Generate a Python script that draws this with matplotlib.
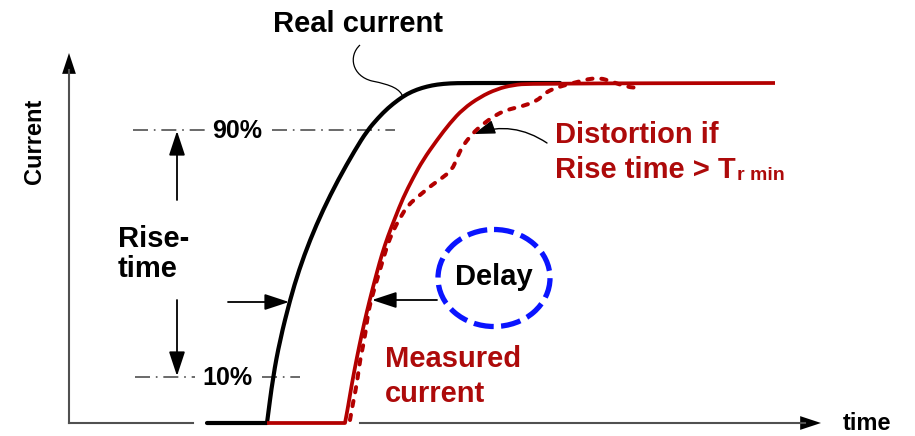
"""Rise time / delay sketch: real vs measured current."""

import matplotlib.pyplot as plt
from matplotlib.patches import Ellipse, FancyArrowPatch, PathPatch, ArrowStyle
from matplotlib.path import Path

plt.rcParams["font.family"] = ["Liberation Sans", "DejaVu Sans"]
plt.rcParams["font.weight"] = "bold"

# curve points (x = time, y = current, screen units, y down)
real_t = [207, 267, 273, 280, 290, 299, 310, 323, 338, 355, 367, 378, 388, 398,
          407, 417, 427, 437, 450, 465, 560]
real_i = [423, 423, 377, 340, 300, 270, 240, 210, 180, 150, 131, 118, 108, 100,
          94, 89.5, 86.5, 84.5, 83.3, 83, 83]

meas_t = [267, 345, 348, 352, 357, 362, 367, 372, 377, 382, 388, 395, 403, 413,
          423, 437, 450, 463, 480, 497, 513, 530, 775]
meas_i = [423, 423, 407, 383, 357, 333, 311, 291, 272, 254, 236, 218, 198, 178,
          160, 140, 123, 109, 97, 89, 85, 83.5, 83]

dist_t = [350, 353, 357, 360, 365, 368, 373, 380, 387, 393, 400, 408, 420, 432,
          442, 452, 457, 462, 472, 483, 497, 510, 523, 537, 545, 555, 573, 597,
          613, 627, 640]
dist_i = [420, 403, 383, 360, 337, 313, 293, 270, 246, 231, 218, 205, 195, 185,
          178, 170, 158, 147, 134, 124, 114, 109, 106, 101, 93, 88, 83, 77,
          82, 87, 88]

level_y = [130, 377]
level_labels = ["90%", "10%"]

RED = "#b30000"
RED_TXT = "#ad0a0a"
AXIS = "#505050"
FS = 21

fig = plt.figure(figsize=(9.15, 4.36), dpi=100)
ax = fig.add_axes([0, 0, 1, 1])
ax.set_xlim(0, 915)
ax.set_ylim(436, 0)
ax.axis("off")

head = ArrowStyle("-|>", head_length=1.0, head_width=0.33)


def arrow(p0, p1, lw=1.3, color="black", ms=15, rad=0.0, style=head):
    a = FancyArrowPatch(p0, p1, arrowstyle=style, mutation_scale=ms, lw=lw,
                        color=color, shrinkA=0, shrinkB=0,
                        connectionstyle=f"arc3,rad={rad}")
    ax.add_patch(a)


def smooth_curve(xs, ys, n_straight=0, **kw):
    """Draw the read points as a smooth path (quadratic pieces through midpoints).
    The first n_straight points are joined by straight segments (flat baseline)."""
    pts = list(zip(xs, ys))
    verts = [pts[0]]
    codes = [Path.MOVETO]
    for p in pts[1:n_straight + 1]:
        verts.append(p)
        codes.append(Path.LINETO)
    rest = pts[n_straight:]
    for a, b in zip(rest[:-1], rest[1:]):
        mid = ((a[0] + b[0]) / 2, (a[1] + b[1]) / 2)
        if a is rest[0]:
            verts.append(mid)
            codes.append(Path.LINETO)
        else:
            verts += [a, mid]
            codes += [Path.CURVE3, Path.CURVE3]
    verts.append(rest[-1])
    codes.append(Path.LINETO)
    ax.add_patch(PathPatch(Path(verts, codes), fill=False, **kw))


# axes with arrows
ax.plot([69, 69], [423, 70], color=AXIS, lw=1.5)
arrow((69, 80), (69, 53), lw=0, color="black", ms=15)
ax.plot([69, 193], [423, 423], color=AXIS, lw=1.5)
ax.plot([360, 805], [423, 423], color=AXIS, lw=1.5)
arrow((800, 423), (821, 423), lw=0, color="black", ms=15)
ax.text(35, 141, "Current", rotation=90, ha="center", va="center", fontsize=17)
ax.text(843, 430, "time", ha="left", va="baseline", fontsize=17)

# 90% / 10% dash-dot levels
dd = (0, (9, 3.5, 1, 3.5))
ax.plot([133, 205], [level_y[0]] * 2, color=AXIS, lw=1.2, linestyle=dd)
ax.plot([272, 395], [level_y[0]] * 2, color=AXIS, lw=1.2, linestyle=dd)
ax.plot([135, 195], [level_y[1]] * 2, color=AXIS, lw=1.2, linestyle=dd)
ax.plot([262, 300], [level_y[1]] * 2, color=AXIS, lw=1.2, linestyle=dd)
ax.text(212, 138, level_labels[0], ha="left", va="baseline", fontsize=18)
ax.text(202, 385, level_labels[1], ha="left", va="baseline", fontsize=18)

# curves
smooth_curve(real_t, real_i, n_straight=1, edgecolor="black", lw=3.0,
             capstyle="round", joinstyle="round", zorder=3)
smooth_curve(meas_t, meas_i, n_straight=1, edgecolor=RED, lw=2.7,
             joinstyle="round", zorder=4)
smooth_curve(dist_t, dist_i, edgecolor=RED, lw=2.9, linestyle=(0, (1.3, 2.2)),
             capstyle="round", zorder=5)

# rise-time arrows and label
arrow((177, 200), (177, 131))
arrow((177, 300), (177, 376))
ax.text(118, 247, "Rise-", ha="left", va="baseline", fontsize=FS)
ax.text(118, 277, "time", ha="left", va="baseline", fontsize=FS)
arrow((228, 302), (289, 302))

# real current label + connector
ax.text(273, 32, "Real current", ha="left", va="baseline", fontsize=FS)
conn = Path([(360, 45), (348, 56), (352, 76), (372, 81), (392, 85), (400, 89), (403, 97)],
            [Path.MOVETO, Path.CURVE4, Path.CURVE4, Path.CURVE4,
             Path.CURVE4, Path.CURVE4, Path.CURVE4])
ax.add_patch(PathPatch(conn, fill=False, lw=0.9, color="black"))

# delay
ax.add_patch(Ellipse((494, 278), 112, 97, fill=False, edgecolor="#0a14ff",
                     lw=3.8, linestyle=(0, (3.8, 1.4)), zorder=6))
ax.text(455, 285, "Delay", ha="left", va="baseline", fontsize=FS, zorder=7)
arrow((437, 300), (372, 300))

# measured current label
ax.text(385, 367, "Measured", ha="left", va="baseline", fontsize=FS, color=RED_TXT)
ax.text(385, 402, "current", ha="left", va="baseline", fontsize=FS, color=RED_TXT)

# distortion label + connector
ax.text(555, 143, "Distortion if", ha="left", va="baseline", fontsize=FS, color=RED_TXT)
t = ax.text(555, 178, "Rise time > T", ha="left", va="baseline", fontsize=FS,
            color=RED_TXT)
ax.annotate("r min", xy=(1, 0), xycoords=t, xytext=(1, 0), textcoords="offset points",
            ha="left", va="bottom", fontsize=14, color=RED_TXT)
arrow((547, 143), (474, 134), lw=1.0, ms=13, rad=0.25)

fig.savefig("out.png", dpi=100)
